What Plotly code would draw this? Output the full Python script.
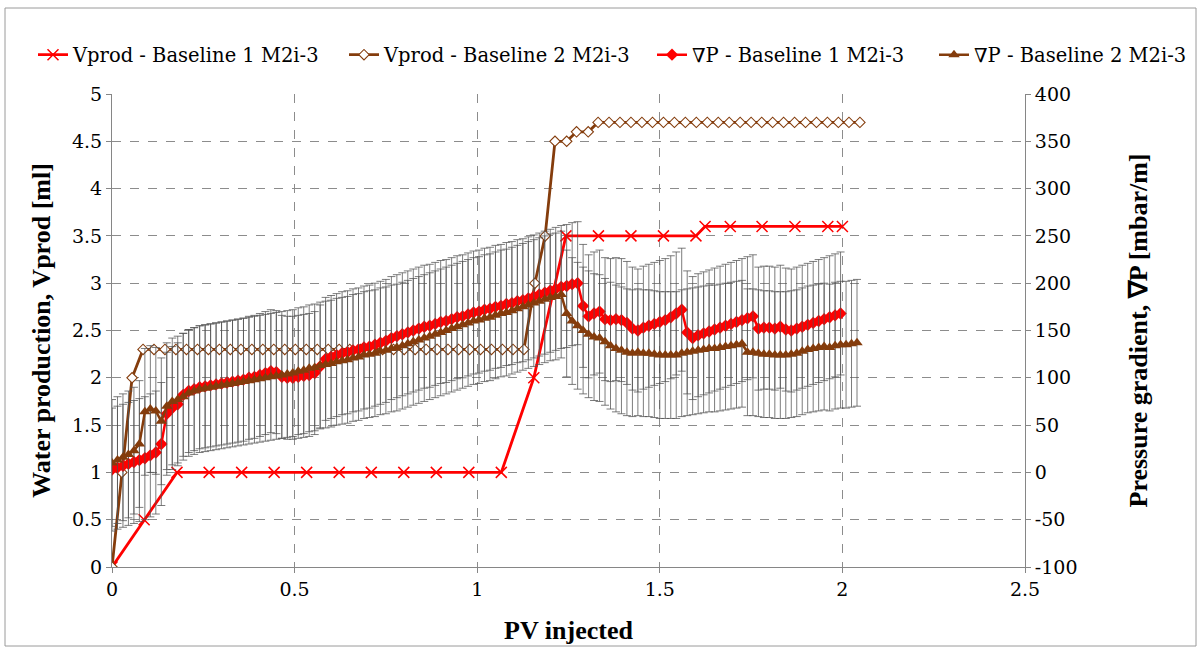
import plotly.graph_objects as go

# ---------------- data ----------------
# Water production, Baseline 1 (left axis, ml)
vprod_b1_pv = [0.000, 0.088, 0.178, 0.266, 0.355, 0.444, 0.533, 0.622, 0.710, 0.799,
               0.888, 0.977, 1.066, 1.155, 1.243, 1.332, 1.421, 1.510, 1.599, 1.624,
               1.693, 1.780, 1.870, 1.960, 2.000]
vprod_b1 = [0.0, 0.5, 1.0, 1.0, 1.0, 1.0, 1.0, 1.0, 1.0, 1.0,
            1.0, 1.0, 1.0, 2.0, 3.5, 3.5, 3.5, 3.5, 3.5, 3.6,
            3.6, 3.6, 3.6, 3.6, 3.6]

# Water production, Baseline 2 (left axis, ml)
vprod_b2_pv = [0.000, 0.027, 0.055,
               0.085, 0.115, 0.145, 0.175, 0.204, 0.234, 0.264, 0.294, 0.324, 0.353,
               0.383, 0.413, 0.443, 0.473, 0.502, 0.532, 0.562, 0.592, 0.622, 0.651,
               0.681, 0.711, 0.741, 0.771, 0.800, 0.830, 0.860, 0.890, 0.920, 0.949,
               0.979, 1.009, 1.039, 1.069, 1.098, 1.128,
               1.158, 1.186, 1.213, 1.245, 1.272, 1.304,
               1.331, 1.361, 1.391, 1.421, 1.451, 1.480, 1.510, 1.540, 1.570, 1.600,
               1.630, 1.660, 1.690, 1.720, 1.750, 1.779, 1.809, 1.839, 1.869, 1.899,
               1.929, 1.959, 1.989, 2.018, 2.048]
vprod_b2 = [0.0, 1.0, 2.0,
            2.3, 2.3, 2.3, 2.3, 2.3, 2.3, 2.3, 2.3, 2.3, 2.3,
            2.3, 2.3, 2.3, 2.3, 2.3, 2.3, 2.3, 2.3, 2.3, 2.3,
            2.3, 2.3, 2.3, 2.3, 2.3, 2.3, 2.3, 2.3, 2.3, 2.3,
            2.3, 2.3, 2.3, 2.3, 2.3, 2.3,
            3.0, 3.5, 4.5, 4.5, 4.6, 4.6,
            4.7, 4.7, 4.7, 4.7, 4.7, 4.7, 4.7, 4.7, 4.7, 4.7,
            4.7, 4.7, 4.7, 4.7, 4.7, 4.7, 4.7, 4.7, 4.7, 4.7,
            4.7, 4.7, 4.7, 4.7, 4.7]

# PV sampling of the pressure-gradient measurements
dp_pv = [0.000, 0.015, 0.030, 0.045, 0.060, 0.075, 0.090, 0.105, 0.120, 0.135,
         0.150, 0.165, 0.180, 0.195, 0.210, 0.225, 0.240, 0.255, 0.270, 0.285,
         0.300, 0.315, 0.330, 0.345, 0.360, 0.375, 0.390, 0.405, 0.420, 0.435,
         0.450, 0.465, 0.480, 0.495, 0.510, 0.525, 0.540, 0.555, 0.570, 0.585,
         0.600, 0.615, 0.630, 0.645, 0.660, 0.675, 0.690, 0.705, 0.720, 0.735,
         0.750, 0.765, 0.780, 0.795, 0.810, 0.825, 0.840, 0.855, 0.870, 0.885,
         0.900, 0.915, 0.930, 0.945, 0.960, 0.975, 0.990, 1.005, 1.020, 1.035,
         1.050, 1.065, 1.080, 1.095, 1.110, 1.125, 1.140, 1.155, 1.170, 1.185,
         1.200, 1.215, 1.230, 1.245, 1.260, 1.275, 1.290, 1.305, 1.320, 1.335,
         1.350, 1.365, 1.380, 1.395, 1.410, 1.425, 1.440, 1.455, 1.470, 1.485,
         1.500, 1.515, 1.530, 1.545, 1.560, 1.575, 1.590, 1.605, 1.620, 1.635,
         1.650, 1.665, 1.680, 1.695, 1.710, 1.725, 1.740, 1.755, 1.770, 1.785,
         1.800, 1.815, 1.830, 1.845, 1.860, 1.875, 1.890, 1.905, 1.920, 1.935,
         1.950, 1.965, 1.980, 1.995, 2.010, 2.025, 2.040]

# Pressure gradient, Baseline 1 (right axis, mbar/m)
dp_b1 = [3, 5, 7, 9, 11, 13, 15, 18, 21, 30,
         62, 68, 72, 82, 86, 88, 90, 91, 92, 93,
         94, 95, 96, 97, 98, 100, 101, 103, 105, 107,
         106, 101, 100, 100, 101, 102, 103, 105, 112, 120,
         122, 124, 126, 127, 129, 130, 132, 133, 135, 137,
         139, 142, 144, 146, 148, 150, 152, 154, 155, 157,
         159, 160, 162, 164, 165, 167, 169, 170, 172, 173,
         175, 176, 178, 179, 181, 182, 184, 186, 188, 190,
         192, 194, 196, 197, 199, 200, 176, 165, 168, 170,
         162, 161, 162, 161, 158, 152, 150, 153, 155, 157,
         159, 161, 164, 168, 172, 148, 142, 145, 147, 149,
         151, 153, 155, 157, 159, 161, 163, 165, 152, 153,
         153, 152, 154, 151, 150, 152, 154, 156, 158, 160,
         162, 164, 166, 168]

# Pressure gradient, Baseline 2 (right axis, mbar/m)
dp_b2 = [10, 13, 16, 19, 23, 30, 64, 67, 65, 54,
         70, 75, 77, 80, 84, 86, 88, 89, 90, 91,
         92, 93, 94, 95, 96, 97, 98, 99, 100, 101,
         102, 103, 104, 105, 107, 108, 110, 111, 113, 114,
         115, 117, 118, 119, 121, 122, 124, 125, 126, 128,
         129, 131, 132, 134, 136, 138, 140, 142, 144, 146,
         148, 150, 152, 154, 156, 158, 160, 161, 163, 164,
         166, 168, 169, 171, 173, 175, 177, 179, 181, 183,
         185, 186, 188, 168, 160, 155, 150, 146, 143, 142,
         138, 134, 131, 129, 127, 126, 127, 126, 126, 125,
         124, 124, 124, 124, 126, 127, 128, 129, 130, 131,
         131, 132, 133, 134, 135, 136, 127, 127, 126, 125,
         125, 124, 124, 124, 125, 126, 128, 130, 131, 132,
         133, 132, 134, 135, 135, 136, 137]

dp_err_b1 = 65
dp_err_b2 = 67

x_ticks = [0, 0.5, 1, 1.5, 2, 2.5]
x_tick_labels = ["0", "0.5", "1", "1.5", "2", "2.5"]
y1_ticks = [0, 0.5, 1, 1.5, 2, 2.5, 3, 3.5, 4, 4.5, 5]
y1_tick_labels = ["0", "0.5", "1", "1.5", "2", "2.5", "3", "3.5", "4", "4.5", "5"]
y2_ticks = [-100, -50, 0, 50, 100, 150, 200, 250, 300, 350, 400]
y2_tick_labels = ["-100", "-50", "0", "50", "100", "150", "200", "250", "300", "350", "400"]

# ---------------- style ----------------
RED = "#FF0000"
BROWN = "#843C0C"
AXIS_GRAY = "#868686"
W, H = 1202, 648
L, R, T, B = 112, 177, 94, 81
SERIF = "DejaVu Serif"
TICK_FONT = dict(family=SERIF, size=19, color="black")
TITLE_FONT = dict(family="Liberation Serif", size=26, color="black")
LEG_FONT = dict(family=SERIF, size=19.5, color="black")

fig = go.Figure()

err_style = dict(type="constant", thickness=1, width=4, color="rgba(80,80,80,0.75)")

fig.add_trace(go.Scatter(
    x=dp_pv[:len(dp_b1)], y=dp_b1, yaxis="y2", mode="lines+markers",
    name="∇P - Baseline 1 M2i-3", legend="legend2", legendrank=3,
    line=dict(color=RED, width=2.5),
    marker=dict(symbol="diamond", size=9.5, color=RED),
    error_y=dict(value=dp_err_b1, **err_style),
))
fig.add_trace(go.Scatter(
    x=dp_pv[:len(dp_b2)], y=dp_b2, yaxis="y2", mode="lines+markers",
    name="∇P - Baseline 2 M2i-3", legend="legend2", legendrank=4,
    line=dict(color=BROWN, width=2.5),
    marker=dict(symbol="triangle-up", size=10, color=BROWN),
    error_y=dict(value=dp_err_b2, **err_style),
))
fig.add_trace(go.Scatter(
    x=vprod_b1_pv, y=vprod_b1, mode="lines+markers",
    name="Vprod - Baseline 1 M2i-3", legend="legend", legendrank=1,
    line=dict(color=RED, width=2.8),
    marker=dict(symbol="x-thin", size=11, color=RED, line=dict(color=RED, width=1.5)),
))
fig.add_trace(go.Scatter(
    x=vprod_b2_pv, y=vprod_b2, mode="lines+markers",
    name="Vprod - Baseline 2 M2i-3", legend="legend", legendrank=2,
    line=dict(color=BROWN, width=2.8),
    marker=dict(symbol="diamond", size=8, color="white", line=dict(color=BROWN, width=1.1)),
))

grid = dict(showgrid=True, gridcolor="#8c8c8c", griddash="dash", gridwidth=1)
leg_common = dict(orientation="h", xref="container", yref="container",
                  y=1 - 55 / H, xanchor="left", yanchor="middle",
                  font=LEG_FONT, itemwidth=30, tracegroupgap=0,
                  bgcolor="rgba(0,0,0,0)")

fig.update_layout(
    width=W, height=H,
    margin=dict(l=L, r=R, t=T, b=B, autoexpand=False),
    paper_bgcolor="white", plot_bgcolor="white",
    font=dict(family=SERIF, size=19, color="black"),
    showlegend=True,
    legend=dict(x=33 / W, entrywidth=266, **leg_common),
    legend2=dict(x=652 / W, entrywidth=237, **leg_common),
    xaxis=dict(range=[0, 2.5], tickvals=x_ticks, ticktext=x_tick_labels,
               tickfont=TICK_FONT,
               showline=True, linecolor=AXIS_GRAY, linewidth=1, mirror=False,
               ticks="outside", ticklen=5, tickcolor=AXIS_GRAY, zeroline=False,
               title=dict(text="<b>PV injected</b>", font=TITLE_FONT, standoff=22),
               **grid),
    yaxis=dict(range=[0, 5], tickvals=y1_ticks, ticktext=y1_tick_labels,
               tickfont=TICK_FONT,
               showline=True, linecolor=AXIS_GRAY, linewidth=1,
               ticks="outside", ticklen=5, tickcolor=AXIS_GRAY, zeroline=False,
               title=dict(text="<b>Water production, Vprod [ml]</b>", font=TITLE_FONT, standoff=13),
               **grid),
    yaxis2=dict(range=[-100, 400], tickvals=y2_ticks, ticktext=y2_tick_labels,
                tickfont=TICK_FONT, overlaying="y", side="right",
                showline=True, linecolor=AXIS_GRAY, linewidth=1, showgrid=False,
                ticks="outside", ticklen=5, tickcolor=AXIS_GRAY, zeroline=False,
                title=dict(text="<b>Pressure gradient, ∇P [mbar/m]</b>", font=TITLE_FONT, standoff=52)),
)

# chart-area border (drawn in paper coordinates spanning the whole canvas)
pw, ph = W - L - R, H - T - B
fig.add_shape(type="rect", xref="paper", yref="paper",
              x0=(5 - L) / pw, x1=(1196 - L) / pw,
              y0=(H - B - 646) / ph, y1=(H - B - 8) / ph,
              line=dict(color="#9a9a9a", width=1), layer="below")

fig.write_html("out.html")
